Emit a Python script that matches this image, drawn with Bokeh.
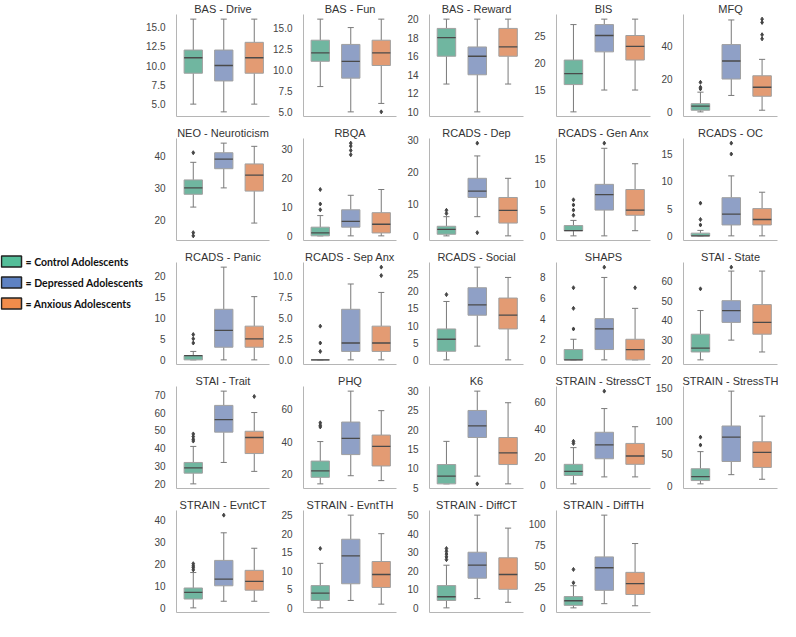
from bokeh.plotting import figure
from bokeh.models import Range1d, FixedTicker, ColumnDataSource
from bokeh.layouts import gridplot, row
from bokeh.transform import dodge
from bokeh.embed import file_html
from bokeh.resources import INLINE
from bokeh.core.properties import value

# ---------------- data ----------------
groups = ["Control Adolescents", "Depressed Adolescents", "Anxious Adolescents"]
box_colors = ["#70b6a0", "#8fa0c6", "#e39b73"]
legend_colors = ["#54be99", "#5e82c3", "#f08c4b"]

titles = ["BAS - Drive", "BAS - Fun", "BAS - Reward", "BIS", "MFQ",
          "NEO - Neuroticism", "RBQA", "RCADS - Dep", "RCADS - Gen Anx", "RCADS - OC",
          "RCADS - Panic", "RCADS - Sep Anx", "RCADS - Social", "SHAPS", "STAI - State",
          "STAI - Trait", "PHQ", "K6", "STRAIN - StressCT", "STRAIN - StressTH",
          "STRAIN - EvntCT", "STRAIN - EvntTH", "STRAIN - DiffCT", "STRAIN - DiffTH"]

# per panel: [control, depressed, anxious]
whisker_low = [[5, 4, 5], [8, 5, 6], [13, 10, 13], [11, 15, 15], [0, 10, 1],
               [24, 30, 19], [0, 0, 0], [0, 6, 0], [0, 0, 1], [0, 0, 0],
               [0, 0, 0], [0, 0, 0], [0, 4, 0], [0, 0, 0], [20, 30, 24],
               [20, 32, 27], [14, 19, 16], [6, 8, 6], [1, 6, 6], [4, 18, 11],
               [0, 3, 3], [0, 2, 1], [0, 5, 3], [0, 5, 2.5]]
q1 = [[9, 8, 9], [11, 9, 10.5], [16, 14, 16], [16, 22, 20.5], [1, 20, 9.5],
      [28, 36, 29], [0, 3, 1], [0.5, 12, 4], [1, 5, 4], [0, 2, 2],
      [0, 3, 3], [0, 1, 1], [2.5, 13, 9], [0, 1, 0], [24, 39, 33],
      [26, 49, 37], [18, 32, 25], [6, 18, 11], [7, 19, 15], [9, 38, 29],
      [4, 10, 8], [2, 6.5, 5.5], [4, 16, 10], [3, 21, 16]]
median = [[11, 10, 11], [12, 11, 12], [18, 16, 17], [18, 25, 23], [3.5, 31, 15],
          [30, 39, 34], [1, 5, 4], [2, 14, 8], [1, 8, 5], [0, 4, 3],
          [1, 7, 5], [0, 2, 2], [6, 16, 13], [0, 3, 1], [26, 45, 39],
          [29, 56, 46], [22, 42, 37], [8, 21, 14], [10, 29, 21], [15, 75, 52],
          [7, 13, 12], [4, 14, 9], [6, 23, 18], [8.5, 48, 29]]
q3 = [[12, 12, 13], [13.5, 13, 13.5], [19, 17, 19], [20.5, 27, 25], [5, 41, 22],
      [32.5, 41, 37.5], [3, 9, 8], [3, 18, 12], [2, 10, 9], [0.5, 7, 5],
      [1, 12, 8], [0, 6, 4], [9, 21, 18], [1, 4, 2], [33, 50, 48],
      [32, 64, 49.5], [28, 52, 44], [11, 25, 18], [15, 38, 30], [27, 92, 68],
      [9, 21.5, 17], [6, 18.5, 12.5], [12, 30, 27], [13.5, 61, 42.5]]
whisker_high = [[16, 16, 16], [16, 15, 16], [20, 20, 20], [27, 28, 28], [12, 56, 32],
                [38, 44, 43], [7, 14, 16], [6, 25, 18], [3, 17, 14], [1, 11, 8],
                [2, 22, 15], [0, 9, 8], [17, 27, 24], [2, 8, 5], [45, 65, 65],
                [41, 72, 60], [40, 71, 59], [17, 30, 27], [27, 55, 42], [53, 145, 107],
                [16, 34, 27], [12, 25, 20], [23, 50, 43], [26.5, 111, 77]]
outliers = [[[], [], []], [[], [], [5]], [[], [], []], [[], [], []],
            [[14, 15, 18], [], [44.5, 47, 54.5, 56.5]],
            [[15, 16, 41], [], []], [[9, 11, 16], [28, 29.5, 31, 32], []],
            [[7, 8], [1, 29], []], [[4, 5, 6, 7], [18], []], [[2, 3, 6], [15, 17], []],
            [[4, 5, 6], [], []], [[1, 2, 4], [], [10, 11]], [[19], [], []],
            [[3, 5, 7], [9], [7]], [[56], [67], []],
            [[44, 45, 46.5, 48], [], [69]], [[49, 50, 51.5], [], []], [[], [6], []],
            [[30, 31.5], [67.5], []], [[63, 75], [], []],
            [[17.2, 18.2, 19, 20], [42], []], [[16], [], []],
            [[26, 27.5, 29, 30.5, 32], [], []], [[30, 46], [], []]]

y_ticks = [[5, 7.5, 10, 12.5, 15], [5, 7.5, 10, 12.5, 15], [10, 12, 14, 16, 18, 20],
           [15, 20, 25], [0, 20, 40],
           [20, 30, 40], [0, 10, 20, 30], [0, 10, 20, 30], [0, 5, 10, 15], [0, 5, 10, 15],
           [0, 5, 10, 15, 20], [0, 2.5, 5, 7.5, 10], [0, 5, 10, 15, 20, 25], [0, 2, 4, 6, 8],
           [20, 30, 40, 50, 60],
           [20, 30, 40, 50, 60, 70], [20, 40, 60], [5, 10, 15, 20, 25, 30], [0, 20, 40, 60],
           [0, 50, 100, 150],
           [0, 10, 20, 30, 40], [0, 5, 10, 15, 20, 25], [0, 10, 20, 30, 40, 50],
           [0, 25, 50, 75, 100]]
y_tick_labels = [["5.0", "7.5", "10.0", "12.5", "15.0"], ["5.0", "7.5", "10.0", "12.5", "15.0"],
                 None, None, None, None, None, None, None, None,
                 None, ["0.0", "2.5", "5.0", "7.5", "10.0"], None, None, None,
                 None, None, None, None, None, None, None, None, None]

# ---------------- style ----------------
FONT = "Liberation Sans"
AXIS_COLOR = "#b5b5b5"
LINE_GRAY = "#7a7a7a"
BOX_EDGE = "#a0a0a0"
MEDIAN_COLOR = "#4a4a4a"
FLIER_COLOR = "#444444"
COL_W = 127
ROW_H = 124
BOX_W = 0.6
CAP_W = 0.2


def make_panel(i):
    lo = whisker_low[i]
    hi = whisker_high[i]
    flat_out = [v for g in outliers[i] for v in g]
    vmin = min(lo + flat_out)
    vmax = max(hi + flat_out)
    pad = 0.05 * (vmax - vmin)
    p = figure(width=COL_W, height=ROW_H, output_backend="svg", toolbar_location=None,
               x_range=Range1d(-0.55, 2.5), y_range=Range1d(vmin - pad, vmax + pad),
               min_border_left=32, min_border_right=1, min_border_top=0, min_border_bottom=8,
               title=titles[i])
    p.title.align = "center"
    p.title.text_font = FONT
    p.title.text_font_size = "11px"
    p.title.text_font_style = "normal"
    p.title.text_color = "#333333"
    p.title.standoff = 0
    p.outline_line_color = None
    p.xgrid.visible = False
    p.ygrid.visible = False

    src = ColumnDataSource(dict(x=[0, 1, 2], lo=lo, q1=q1[i], med=median[i], q3=q3[i], hi=hi,
                                color=box_colors))
    p.segment(x0="x", y0="lo", x1="x", y1="q1", source=src, line_color=LINE_GRAY, line_width=1)
    p.segment(x0="x", y0="q3", x1="x", y1="hi", source=src, line_color=LINE_GRAY, line_width=1)
    p.segment(x0=dodge("x", -CAP_W / 2), y0="hi", x1=dodge("x", CAP_W / 2), y1="hi",
              source=src, line_color=LINE_GRAY, line_width=1)
    p.segment(x0=dodge("x", -CAP_W / 2), y0="lo", x1=dodge("x", CAP_W / 2), y1="lo",
              source=src, line_color=LINE_GRAY, line_width=1)
    p.vbar(x="x", width=BOX_W, bottom="q1", top="q3", source=src, fill_color="color",
           line_color=BOX_EDGE, line_width=1)
    p.segment(x0=dodge("x", -BOX_W / 2), y0="med", x1=dodge("x", BOX_W / 2), y1="med",
              source=src, line_color=MEDIAN_COLOR, line_width=1.3)

    ox, oy = [], []
    for g, vals in enumerate(outliers[i]):
        ox += [g] * len(vals)
        oy += vals
    if ox:
        p.scatter(x=ox, y=oy, marker="diamond", size=4, color=FLIER_COLOR)

    p.xaxis.ticker = FixedTicker(ticks=[])
    p.xaxis.major_label_text_font_size = "0px"
    p.xaxis.major_tick_line_color = None
    p.xaxis.minor_tick_line_color = None
    p.xaxis.axis_line_color = AXIS_COLOR

    p.yaxis.ticker = FixedTicker(ticks=y_ticks[i])
    if y_tick_labels[i] is not None:
        p.yaxis.major_label_overrides = {t: l for t, l in zip(y_ticks[i], y_tick_labels[i])}
    p.yaxis.major_tick_line_color = None
    p.yaxis.minor_tick_line_color = None
    p.yaxis.axis_line_color = AXIS_COLOR
    p.yaxis.major_label_text_font = FONT
    p.yaxis.major_label_text_font_size = "10px"
    p.yaxis.major_label_text_color = "#444444"
    p.yaxis.major_label_standoff = 5
    return p


panels = [make_panel(i) for i in range(len(titles))]
grid = gridplot(panels, ncols=5, toolbar_location=None)

# ---------------- legend ----------------
LEG_W = 143
leg = figure(width=LEG_W, height=5 * ROW_H, output_backend="svg", toolbar_location=None,
             x_range=Range1d(0, LEG_W), y_range=Range1d(5 * ROW_H, 0),
             x_axis_type=None, y_axis_type=None, min_border=0)
leg.outline_line_color = None
leg.xgrid.visible = False
leg.ygrid.visible = False
leg_y = [261 + 21 * k for k in range(len(groups))]
leg.rect(x=[11] * len(groups), y=leg_y, width=20, height=11, fill_color=legend_colors,
         line_color="#222222", line_width=1.5)
leg.text(x=[25] * len(groups), y=leg_y, text=["= " + g for g in groups],
         text_font=value("Lato"), text_font_style="bold", text_font_size="10.5px",
         text_baseline="middle", text_color="#111111")

layout = row(leg, grid)
open("out.html", "w").write(file_html(layout, INLINE))
